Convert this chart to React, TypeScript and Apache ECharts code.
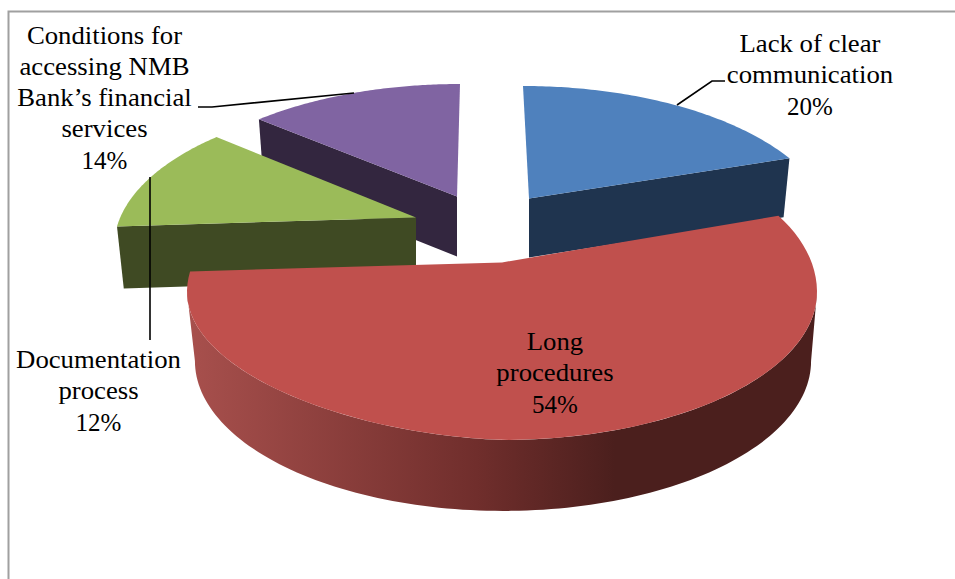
import React, { useEffect, useRef } from "react";
import * as echarts from "echarts";

const categories = ["Lack of clear communication", "Long procedures", "Documentation process", "Conditions for accessing NMB Bank’s financial services"];
const values = [20, 54, 12, 14];
const labelLines = [
  ["Lack of clear", "communication"],
  ["Long", "procedures"],
  ["Documentation", "process"],
  ["Conditions for", "accessing NMB", "Bank’s financial", "services"],
];
const topColors = ["#4f81bd", "#c0504d", "#9bbb59", "#8064a2"];
const sideColors = ["#1f344f", "#4b1f1d", "#3f4a23", "#33263f"];

// Layout of each exploded slice: ellipse of the top face, perspective strength, wall depth.
const layout = [
  { cx: 523, cy: 234, rx: 310, ry: 148, e: 0.24, shift: 6, depth: 59, wall: "end", bend: 0 },
  { cx: 502, cy: 292, rx: 315, ry: 148, e: 0.2, shift: 0, depth: 69, wall: "arc", bend: 0.04 },
  { cx: 424, cy: 247, rx: 310, ry: 148, e: 0.2, shift: -8, depth: 62, wall: "start", bend: 0 },
  { cx: 460, cy: 232, rx: 310, ry: 148, e: 0.24, shift: -3, depth: 60, wall: "start", bend: 0 },
];
const labelPos = [
  { x: 810, y: 44 },
  { x: 555, y: 342 },
  { x: 98.5, y: 360 },
  { x: 104.5, y: 36 },
];
const leaders = [
  [[677, 105], [712, 81], [725, 81]],
  null,
  [[150, 177], [150, 340]],
  [[354, 93], [212, 107], [198, 107]],
];
const drawOrder = [3, 0, 2, 1];
const LINE = 31;
const BOTTOM_SCALE = 0.978;
const TEXT_STRETCH = 1.07;
const FONT = '25px "Liberation Serif", "Times New Roman", serif';

const total = values.reduce((a, b) => a + b, 0);
const starts: number[] = [];
values.reduce((acc, v, i) => {
  starts[i] = acc;
  return acc + v;
}, 0);

// Projects a point of the pie's rim (angle clockwise from the top) to the ellipse param.
function rim(deg: number, e: number) {
  const t = (deg * Math.PI) / 180;
  const d = 1 + e * Math.cos(t);
  return { s: (Math.sin(t) * Math.sqrt(1 - e * e)) / d, c: (Math.cos(t) + e) / d };
}

function buildSlice(i: number) {
  const g = layout[i];
  const rimPoint = (s: number, c: number) => {
    const dx = g.rx * s;
    return [g.cx + dx, g.cy - g.ry * c - g.bend * Math.max(0, dx * c)];
  };
  const a0 = (starts[i] / total) * 360;
  const a1 = ((starts[i] + values[i]) / total) * 360;
  const arc: number[][] = [];
  const N = 80;
  for (let k = 0; k <= N; k++) {
    const p = rim(a0 + ((a1 - a0) * k) / N, g.e);
    arc.push(rimPoint(p.s, p.c));
  }
  const apex = [g.cx + g.shift, g.cy - g.e * g.ry];
  const apexB = [apex[0], apex[1] + g.depth];
  const under = (deg: number) => {
    const p = rim(deg, g.e);
    return [g.cx + g.rx * BOTTOM_SCALE * p.s, g.cy + g.depth - g.ry * p.c];
  };
  let wall: number[][];
  if (g.wall === "end") {
    wall = [apex, arc[N], under(a1), apexB];
  } else if (g.wall === "start") {
    wall = [apex, arc[0], under(a0), apexB];
  } else {
    wall = [];
    const M = 120;
    for (let k = 0; k <= M; k++) {
      const f = Math.PI / 2 + (Math.PI * k) / M;
      wall.push(rimPoint(Math.sin(f), Math.cos(f)));
    }
    for (let k = M; k >= 0; k--) {
      const f = Math.PI / 2 + (Math.PI * k) / M;
      wall.push([g.cx + 1 + g.rx * BOTTOM_SCALE * Math.sin(f), g.cy + g.depth - g.ry * 1.013 * Math.cos(f)]);
    }
  }
  return { top: [apex, ...arc], wall };
}

const App = () => {
  const ref = useRef<HTMLDivElement>(null);
  useEffect(() => {
    document.body.style.margin = "0";
    const chart = echarts.init(ref.current!, undefined, { renderer: "svg" });
    const redWall = {
      type: "linear",
      x: 0,
      y: 0,
      x2: 1,
      y2: 0,
      colorStops: [
        { offset: 0, color: "#a8504d" },
        { offset: 0.46, color: "#702e2c" },
        { offset: 0.68, color: sideColors[1] },
        { offset: 1, color: sideColors[1] },
      ],
    };
    chart.setOption({
      animation: false,
      backgroundColor: "#ffffff",
      series: [
        {
          type: "custom",
          coordinateSystem: "none",
          silent: true,
          data: drawOrder.map((i) => ({ name: categories[i], value: [i, values[i]] })),
          renderItem: (_p: any, api: any) => {
            const i = api.value(0);
            const s = buildSlice(i);
            return {
              type: "group",
              children: [
                {
                  type: "polygon",
                  shape: { points: s.wall },
                  style: { fill: layout[i].wall === "arc" ? redWall : sideColors[i] },
                },
                { type: "polygon", shape: { points: s.top }, style: { fill: topColors[i] } },
              ],
            };
          },
        },
        {
          type: "custom",
          coordinateSystem: "none",
          silent: true,
          z: 5,
          data: values.map((v, i) => ({ name: categories[i], value: [i, v] })),
          renderItem: (_p: any, api: any) => {
            const i = api.value(0);
            const names = labelLines[i];
            const lines = [...names, `${api.value(1)}%`];
            const children: any[] = lines.map((t, k) => ({
              type: "text",
              x: labelPos[i].x,
              y: labelPos[i].y + k * LINE,
              scaleX: k < names.length ? TEXT_STRETCH : 1,
              style: { text: t, font: FONT, fill: "#000", textAlign: "center", textVerticalAlign: "middle" },
            }));
            if (leaders[i]) {
              children.push({
                type: "polyline",
                shape: { points: leaders[i] },
                style: { stroke: "#000", lineWidth: 1.6, fill: "none" },
              });
            }
            return { type: "group", children };
          },
        },
      ],
      graphic: [
        {
          type: "polyline",
          shape: { points: [[8.5, 579], [8.5, 11.5], [955, 11.5]] },
          style: { stroke: "#a0a0a0", lineWidth: 2, fill: "none" },
          silent: true,
        },
      ],
    });
    return () => chart.dispose();
  }, []);
  return <div ref={ref} style={{ position: "absolute", left: 0, top: 0, width: 955, height: 579 }} />;
};

export default App;
